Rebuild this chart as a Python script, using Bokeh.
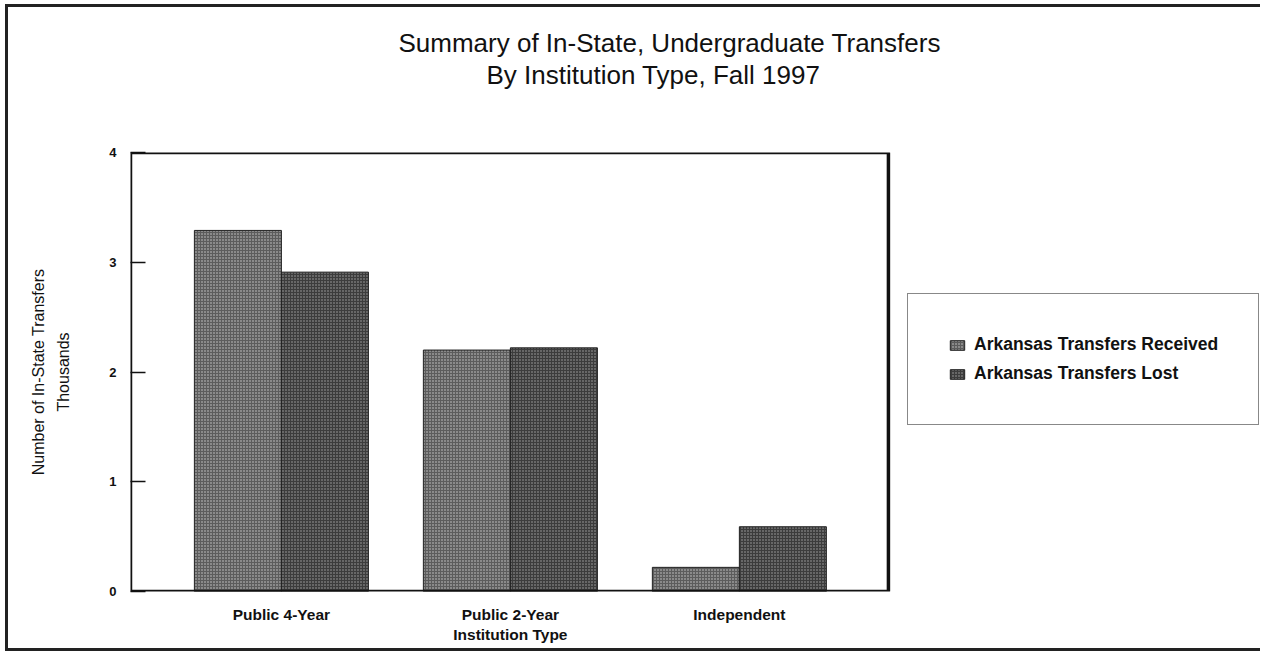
from bokeh.plotting import figure
from bokeh.models import FixedTicker, Legend, LegendItem, Range1d, Title, BoxAnnotation
from bokeh.embed import file_html
from bokeh.resources import INLINE

categories = ["Public 4-Year", "Public 2-Year", "Independent"]
received = [3.29, 2.20, 0.22]
lost = [2.91, 2.22, 0.59]
series_names = ["Arkansas Transfers Received", "Arkansas Transfers Lost"]
y_ticks = [0, 1, 2, 3, 4]
title_lines = ["Summary of In-State, Undergraduate Transfers", "By Institution Type, Fall 1997"]
x_title = "Institution Type"
y_title = "Number of In-State Transfers\nThousands"

FONT = "Liberation Sans"
xs = [i + 1 for i in range(len(categories))]
bw = 0.38
X0, X1 = 0.341, 3.651   # visible plot box
Y0, Y1 = 0, 4

p = figure(width=1255, height=647, output_backend="svg", toolbar_location=None,
           x_range=Range1d(X0, 5.289), y_range=Range1d(Y0, Y1),
           min_border_left=122, min_border_right=0, min_border_top=145, min_border_bottom=63)
p.outline_line_color = None
p.grid.visible = False
p.background_fill_color = "white"
p.border_fill_color = "white"

p.title.text = title_lines[0]
p.title.text_font = FONT
p.title.text_font_size = "26px"
p.title.text_font_style = "normal"
p.title.text_color = "#111111"
p.title.align = "left"
p.title.offset = 268
p.title.standoff = 0
# blank spacer first (sits next to the plot box), then the second title line
p.add_layout(Title(text=" ", text_font=FONT, text_font_size="26px", standoff=31), "above")
p.add_layout(Title(text=title_lines[1], text_font=FONT, text_font_size="26px",
                   text_font_style="normal", text_color="#111111", align="left",
                   offset=356, standoff=0), "above")

r1 = p.vbar(x=[x - bw / 2 for x in xs], top=received, width=bw,
            fill_color="#5c5c5c", line_color="#222222", line_width=1,
            hatch_pattern="dot", hatch_color="#d0d0d0", hatch_scale=3, hatch_weight=2)
r2 = p.vbar(x=[x + bw / 2 for x in xs], top=lost, width=bw,
            fill_color="#3c3c3c", line_color="#222222", line_width=1,
            hatch_pattern="dot", hatch_color="#a8a8a8", hatch_scale=3, hatch_weight=2)

# visible plot box
p.add_layout(BoxAnnotation(left=X0, right=X1, bottom=Y0, top=Y1, fill_alpha=0,
                           line_color="#111111", line_alpha=1, line_width=3.5))

xa = p.xaxis[0]
xa.ticker = FixedTicker(ticks=xs)
labels = list(categories)
labels[1] = labels[1] + "\n" + x_title
xa.major_label_overrides = {x: c for x, c in zip(xs, labels)}
xa.major_tick_line_color = None
xa.minor_tick_line_color = None
xa.axis_line_color = None
xa.major_label_text_font = FONT
xa.major_label_text_font_style = "bold"
xa.major_label_text_font_size = "15.5px"
xa.major_label_text_color = "#111111"
xa.major_label_standoff = 8

ya = p.yaxis[0]
ya.ticker = FixedTicker(ticks=y_ticks)
ya.minor_tick_line_color = None
ya.axis_line_color = None
ya.major_tick_in = 15
ya.major_tick_out = 0
ya.major_tick_line_width = 1.5
ya.major_tick_line_color = "#111111"
ya.major_label_text_font = FONT
ya.major_label_text_font_style = "bold"
ya.major_label_text_font_size = "13px"
ya.major_label_text_color = "#111111"
ya.major_label_standoff = 14
ya.axis_label = y_title
ya.axis_label_text_font = FONT
ya.axis_label_text_font_style = "normal"
ya.axis_label_text_font_size = "16px"
ya.axis_label_text_color = "#111111"
ya.axis_label_text_line_height = 1.5
ya.axis_label_standoff = 34

legend = Legend(items=[LegendItem(label=series_names[0], renderers=[r1]),
                       LegendItem(label=series_names[1], renderers=[r2])],
                location=(777, 166), margin=0, padding=40, spacing=8,
                glyph_width=18, glyph_height=12, label_standoff=8,
                label_text_font=FONT, label_text_font_style="bold",
                label_text_font_size="17.5px", label_text_color="#111111",
                border_line_color="#111111", border_line_width=1.5,
                background_fill_color="white")
p.add_layout(legend, "center")

p.styles = {"border-top": "3px solid #222", "border-left": "3px solid #222",
            "border-bottom": "3px solid #222", "margin-top": "4px", "margin-left": "5px"}

open("out.html", "w").write(file_html(p, INLINE))
